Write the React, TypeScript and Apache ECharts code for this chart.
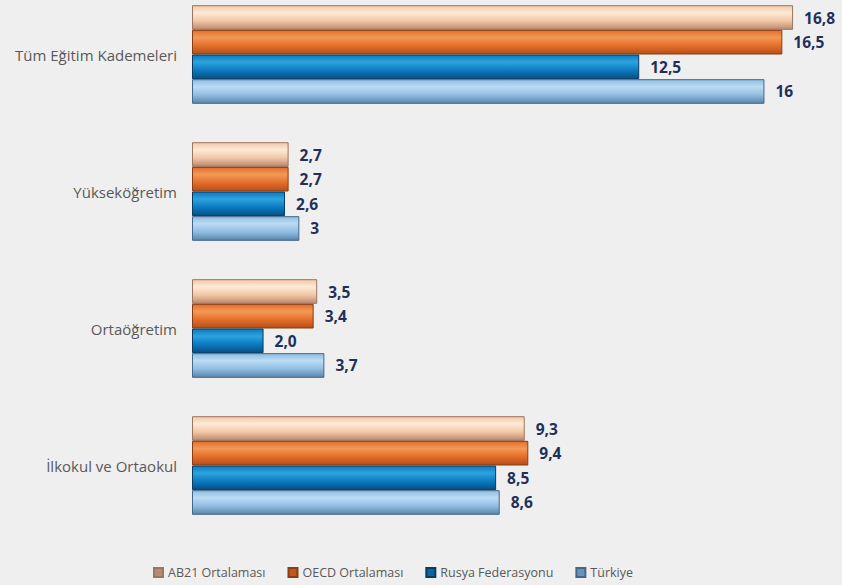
import React, { useEffect, useRef } from "react";
import * as echarts from "echarts";

const categories = ["Tüm Eğitim Kademeleri", "Yükseköğretim", "Ortaöğretim", "İlkokul ve Ortaokul"];
const seriesNames = ["AB21 Ortalaması", "OECD Ortalaması", "Rusya Federasyonu", "Türkiye"];
const ab21Values = [16.8, 2.7, 3.5, 9.3];
const oecdValues = [16.5, 2.7, 3.4, 9.4];
const rusyaValues = [12.5, 2.6, 2.0, 8.5];
const turkiyeValues = [16, 3, 3.7, 8.6];
const ab21Labels = ["16,8", "2,7", "3,5", "9,3"];
const oecdLabels = ["16,5", "2,7", "3,4", "9,4"];
const rusyaLabels = ["12,5", "2,6", "2,0", "8,5"];
const turkiyeLabels = ["16", "3", "3,7", "8,6"];

const palettes = [
  { edge: "#b88a70", mid: "#f2c6a4", light: "#fcebd8", border: "#9c7560", icon: "#b58a6f" },
  { edge: "#b3501a", mid: "#e56d2a", light: "#f19a55", border: "#8a3c12", icon: "#c4561d" },
  { edge: "#084f80", mid: "#0b7ac2", light: "#2ea3dd", border: "#063c62", icon: "#0b64a0" },
  { edge: "#5a84a6", mid: "#8fbde2", light: "#bcdcf2", border: "#45688a", icon: "#6b93b8" },
];

function grad(p: { edge: string; mid: string; light: string }) {
  return new echarts.graphic.LinearGradient(0, 0, 0, 1, [
    { offset: 0, color: p.mid },
    { offset: 0.3, color: p.light },
    { offset: 0.65, color: p.mid },
    { offset: 1, color: p.edge },
  ]);
}

const OFFSET = 15;

export default function App() {
  const ref = useRef<HTMLDivElement>(null);
  useEffect(() => {
    document.body.style.margin = "0";
    document.body.style.background = "#efefef";
    const chart = echarts.init(ref.current!, null, { renderer: "svg" });
    const values = [ab21Values, oecdValues, rusyaValues, turkiyeValues];
    const labels = [ab21Labels, oecdLabels, rusyaLabels, turkiyeLabels];
    chart.setOption({
      animation: false,
      backgroundColor: "#efefef",
      textStyle: { fontFamily: "Open Sans" },
      grid: { left: 192, top: OFFSET - 14, width: 644, height: 548, containLabel: false },
      xAxis: {
        type: "value",
        min: 0,
        max: 18,
        show: false,
      },
      yAxis: {
        type: "category",
        data: categories,
        inverse: true,
        axisLine: { show: false },
        axisTick: { show: false },
        axisLabel: { color: "#595959", fontSize: 15, margin: 15, fontFamily: "Open Sans" },
      },
      legend: {
        left: 148,
        top: OFFSET + 561,
        itemWidth: 9,
        itemHeight: 9,
        itemGap: 22,
        icon: "rect",
        textStyle: { color: "#595959", fontSize: 12.5, fontFamily: "Open Sans" },
        data: seriesNames.map((name, i) => ({ name, itemStyle: { color: palettes[i].icon } })),
      },
      series: seriesNames.map((name, i) => ({
        name,
        type: "bar",
        data: values[i],
        barGap: "0%",
        barCategoryGap: "28%",
        itemStyle: {
          color: grad(palettes[i]),
          borderColor: palettes[i].border,
          borderWidth: 1,
        },
        label: {
          show: true,
          position: "right",
          distance: 11,
          color: "#1f2f5a",
          fontWeight: "bold",
          fontSize: 15.5,
          fontFamily: "Open Sans",
          formatter: (p: any) => labels[i][p.dataIndex],
        },
      })),
    });
    return () => chart.dispose();
  }, []);
  return (
    <div style={{ width: 842, height: 585, overflow: "hidden", background: "#efefef" }}>
      <div ref={ref} style={{ width: 842, height: 585 + OFFSET, marginTop: -OFFSET }} />
    </div>
  );
}
